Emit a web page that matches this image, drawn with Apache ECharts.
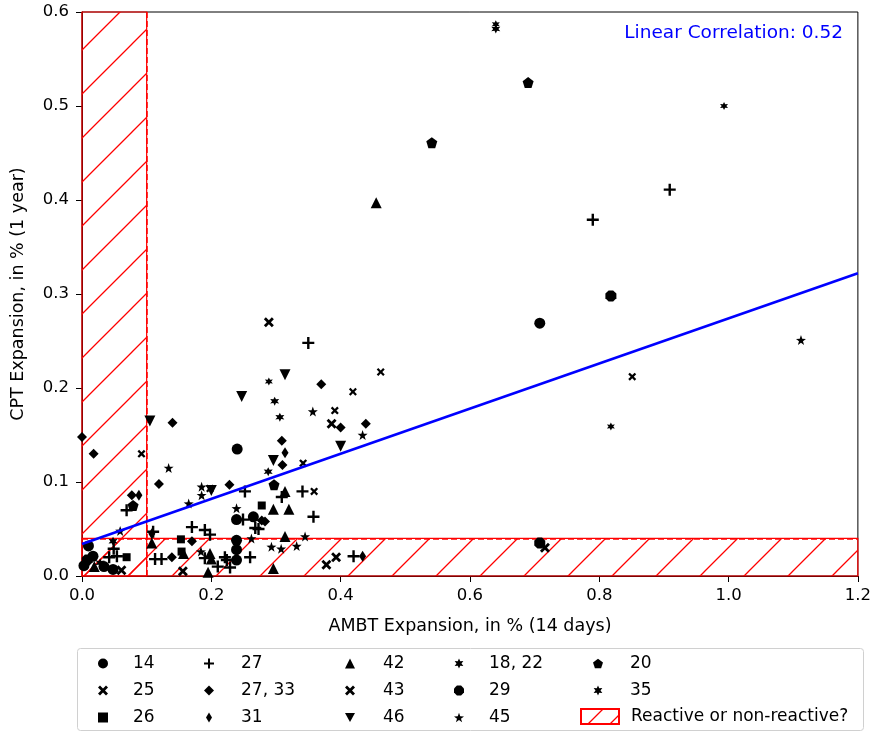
<!DOCTYPE html>
<html>
<head>
<meta charset="utf-8">
<script src="https://cdn.jsdelivr.net/npm/echarts@6/dist/echarts.min.js"></script>
<style>html,body{margin:0;padding:0;background:#fff}#c{width:874px;height:732px}</style>
</head>
<body>
<div id="c"></div>
<script>
// ---- data (AMBT %, CPT %) ----
const s14 = [[0.708,0.269],[0.24,0.135],[0.01,0.032],[0.017,0.021],[0.003,0.011],[0.034,0.01],[0.239,0.06],[0.265,0.063],[0.239,0.038],[0.239,0.028],[0.239,0.017],[0.048,0.007]];
const s25 = [[0.289,0.27],[0.386,0.162],[0.393,0.02],[0.378,0.012],[0.716,0.03],[0.061,0.006],[0.156,0.005]];
const s26 = [[0.069,0.02],[0.278,0.075],[0.154,0.026],[0.153,0.039]];
const s27 = [[0.909,0.411],[0.79,0.379],[0.35,0.248],[0.069,0.07],[0.049,0.029],[0.042,0.02],[0.054,0.021],[0.11,0.047],[0.17,0.052],[0.19,0.049],[0.198,0.044],[0.113,0.018],[0.123,0.018],[0.19,0.019],[0.221,0.02],[0.21,0.01],[0.252,0.09],[0.309,0.084],[0.341,0.09],[0.249,0.06],[0.273,0.05],[0.268,0.051],[0.358,0.063],[0.26,0.02],[0.229,0.009],[0.224,0.017],[0.42,0.021]];
const s2733 = [[0.37,0.204],[0.4,0.158],[0.439,0.162],[0.309,0.144],[0.14,0.163],[0.018,0.13],[0.0,0.148],[0.119,0.098],[0.077,0.086],[0.228,0.097],[0.17,0.037],[0.139,0.02],[0.31,0.118],[0.278,0.059],[0.283,0.058]];
const s31 = [[0.088,0.086],[0.314,0.131],[0.434,0.021],[0.108,0.045]];
const s42 = [[0.455,0.397],[0.019,0.01],[0.108,0.035],[0.157,0.024],[0.198,0.024],[0.2,0.018],[0.195,0.004],[0.314,0.09],[0.296,0.071],[0.32,0.071],[0.314,0.042],[0.296,0.008]];
const s43 = [[0.851,0.212],[0.462,0.217],[0.419,0.196],[0.391,0.176],[0.092,0.13],[0.198,0.093],[0.342,0.12],[0.359,0.09]];
const s46 = [[0.314,0.214],[0.247,0.191],[0.4,0.138],[0.105,0.165],[0.2,0.091],[0.296,0.123]];
const s1822 = [[0.64,0.582],[0.298,0.186],[0.306,0.169],[0.288,0.111],[0.028,0.014],[0.048,0.037]];
const s29 = [[0.818,0.298],[0.708,0.035],[0.008,0.017]];
const s45 = [[1.112,0.251],[0.357,0.175],[0.434,0.15],[0.134,0.115],[0.185,0.095],[0.185,0.086],[0.165,0.077],[0.059,0.048],[0.184,0.026],[0.239,0.072],[0.262,0.04],[0.345,0.042],[0.293,0.031],[0.308,0.029],[0.332,0.032]];
const s20 = [[0.69,0.525],[0.541,0.461],[0.079,0.075],[0.297,0.097]];
const s35 = [[0.64,0.587],[0.993,0.5],[0.818,0.159],[0.289,0.207]];
const fitX = [0, 1.2];
const fitY = [0.034, 0.322];
const xTicks = [0, 0.2, 0.4, 0.6, 0.8, 1.0, 1.2];
const yTicks = [0, 0.1, 0.2, 0.3, 0.4, 0.5, 0.6];
const thresholdX = 0.1, thresholdY = 0.04;
const corrText = 'Linear Correlation: 0.52';
const hatchName = 'Reactive or non-reactive?';

// ---- symbols ----
const SYM = {
  X: 'path://M2,0 L5,3 L8,0 L10,2 L7,5 L10,8 L8,10 L5,7 L2,10 L0,8 L3,5 L0,2 Z',
  plus: 'path://M4,0 H6 V4 H10 V6 H6 V10 H4 V6 H0 V4 H4 Z',
  thinD: 'path://M3,0 L6,5 L3,10 L0,5 Z',
  tdown: 'path://M0,0 L10,0 L5,9 Z',
  star: 'path://M10,0 L12.35,6.76 L19.51,6.91 L13.8,11.24 L15.88,18.09 L10,14 L4.12,18.09 L6.2,11.24 L0.49,6.91 L7.65,6.76 Z',
  pent: 'path://M10,0 L19.51,6.91 L15.88,18.09 L4.12,18.09 L0.49,6.91 Z',
  hexa: 'path://M10,0 L12.5,5.67 L18.66,5 L15,10 L18.66,15 L12.5,14.33 L10,20 L7.5,14.33 L1.34,15 L5,10 L1.34,5 L7.5,5.67 Z',
  oct: 'path://M19.24,13.83 L13.83,19.24 L6.17,19.24 L0.76,13.83 L0.76,6.17 L6.17,0.76 L13.83,0.76 L19.24,6.17 Z'
};

// ---- hatch pattern ----
function makeHatch(size) {
  const pc = document.createElement('canvas');
  pc.width = size; pc.height = size;
  const g = pc.getContext('2d');
  g.strokeStyle = '#ff0000'; g.lineWidth = 1.3;
  g.beginPath();
  g.moveTo(0, size); g.lineTo(size, 0);
  g.moveTo(-2, 2); g.lineTo(2, -2);
  g.moveTo(size - 2, size + 2); g.lineTo(size + 2, size - 2);
  g.stroke();
  return { image: pc, repeat: 'repeat' };
}
const hatch = makeHatch(44);
const hatchSmall = makeHatch(22);

function sc(name, data, symbol, size) {
  return { type: 'scatter', name: name, data: data, symbol: symbol, symbolSize: size,
    itemStyle: { color: '#000', opacity: 1 }, z: 5, clip: true, emphasis: { disabled: true } };
}

const series = [
  {
    type: 'bar', name: hatchName, data: [],
    itemStyle: { color: hatchSmall, borderColor: '#ff0000', borderWidth: 1.5 },
    markArea: {
      silent: true,
      itemStyle: { color: hatch, borderColor: '#ff0000', borderWidth: 1.2, opacity: 1 },
      data: [
        [{ coord: [0, 0] }, { coord: [thresholdX, 0.6] }],
        [{ coord: [0, 0] }, { coord: [1.2, thresholdY] }]
      ]
    },
    markLine: {
      silent: true, symbol: 'none', label: { show: false },
      lineStyle: { color: '#ff0000', type: [6, 3], width: 1.5 },
      data: [{ xAxis: thresholdX }, { yAxis: thresholdY }]
    },
    z: 1
  },
  sc('14', s14, 'circle', 11),
  sc('25', s25, SYM.X, 10),
  sc('26', s26, 'rect', 8),
  sc('27', s27, SYM.plus, 12),
  sc('27, 33', s2733, 'diamond', 10),
  sc('31', s31, SYM.thinD, [7, 11]),
  sc('42', s42, 'triangle', 11),
  sc('43', s43, SYM.X, 8),
  sc('46', s46, SYM.tdown, 11),
  sc('18, 22', s1822, SYM.hexa, 9),
  sc('29', s29, SYM.oct, 11),
  sc('45', s45, SYM.star, 10),
  sc('20', s20, SYM.pent, 11),
  sc('35', s35, SYM.hexa, 8),
  {
    type: 'line', name: 'fit', data: fitX.map((x, i) => [x, fitY[i]]),
    symbol: 'none', lineStyle: { color: '#0000ff', width: 2.6 }, z: 8, silent: true
  }
];

const FONT = 'DejaVu Sans';
function leg(center, textX, names, top) {
  const iw = 10;
  const left = center - iw / 2;
  return {
    orient: 'vertical', left: left, top: top, padding: 0, itemGap: 10, height: 90,
    itemWidth: iw, itemHeight: 10, selectedMode: false,
    data: names,
    textStyle: { fontFamily: FONT, fontSize: 17, color: '#000',
      padding: [0, 0, 0, textX - (left + iw + 5)] }
  };
}

const chart = echarts.init(document.getElementById('c'), null, { renderer: 'canvas' });
chart.setOption({
  animation: false,
  backgroundColor: '#fff',
  grid: { left: 82, right: 16, top: 12, bottom: 156, show: true, borderColor: '#000', borderWidth: 1, backgroundColor: 'transparent' },
  xAxis: {
    type: 'value', min: 0, max: 1.2, interval: 0.2,
    name: 'AMBT Expansion, in % (14 days)', nameLocation: 'middle', nameGap: 41,
    nameTextStyle: { fontFamily: FONT, fontSize: 17.5, color: '#000' },
    axisLine: { show: true, onZero: false, lineStyle: { color: '#000' } },
    axisTick: { show: true, length: 6, lineStyle: { color: '#000' } },
    axisLabel: { fontFamily: FONT, fontSize: 16.5, color: '#000', margin: 11,
      formatter: v => xTicks.some(t => Math.abs(t - v) < 1e-9) ? v.toFixed(1) : '' },
    splitLine: { show: false }
  },
  yAxis: {
    type: 'value', min: 0, max: 0.6, interval: 0.1,
    name: 'CPT Expansion, in % (1 year)', nameLocation: 'middle', nameGap: 55,
    nameTextStyle: { fontFamily: FONT, fontSize: 17.5, color: '#000' },
    axisLine: { show: true, onZero: false, lineStyle: { color: '#000' } },
    axisTick: { show: true, length: 6, lineStyle: { color: '#000' } },
    axisLabel: { fontFamily: FONT, fontSize: 16.5, color: '#000', margin: 13,
      formatter: v => yTicks.some(t => Math.abs(t - v) < 1e-9) ? v.toFixed(1) : '' },
    splitLine: { show: false }
  },
  legend: [
    leg(103, 133, ['14', '25', '26'], 655),
    leg(209, 241, ['27', '27, 33', '31'], 655),
    leg(350, 383, ['42', '43', '46'], 655),
    leg(459, 489, ['18, 22', '29', '45'], 655),
    leg(598, 630, ['20', '35'], 655),
    {
      orient: 'vertical', left: 580, top: 708, padding: 0, itemWidth: 38, itemHeight: 15,
      selectedMode: false,
      data: [{ name: hatchName, icon: 'rect' }],
      textStyle: { fontFamily: FONT, fontSize: 17, color: '#000', padding: [0, 0, 0, 7] }
    }
  ],
  graphic: [
    { type: 'rect', shape: { x: 77.5, y: 648.5, width: 786, height: 82, r: 3 }, style: { fill: 'none', stroke: '#d0d0d0', lineWidth: 1 }, z: -1, silent: true },
    { type: 'text', right: 31, top: 24, style: { text: corrText, fill: '#0000ff', font: '18.5px "DejaVu Sans"' }, z: 10, silent: true }
  ],
  series: series
});
</script>
</body>
</html>
